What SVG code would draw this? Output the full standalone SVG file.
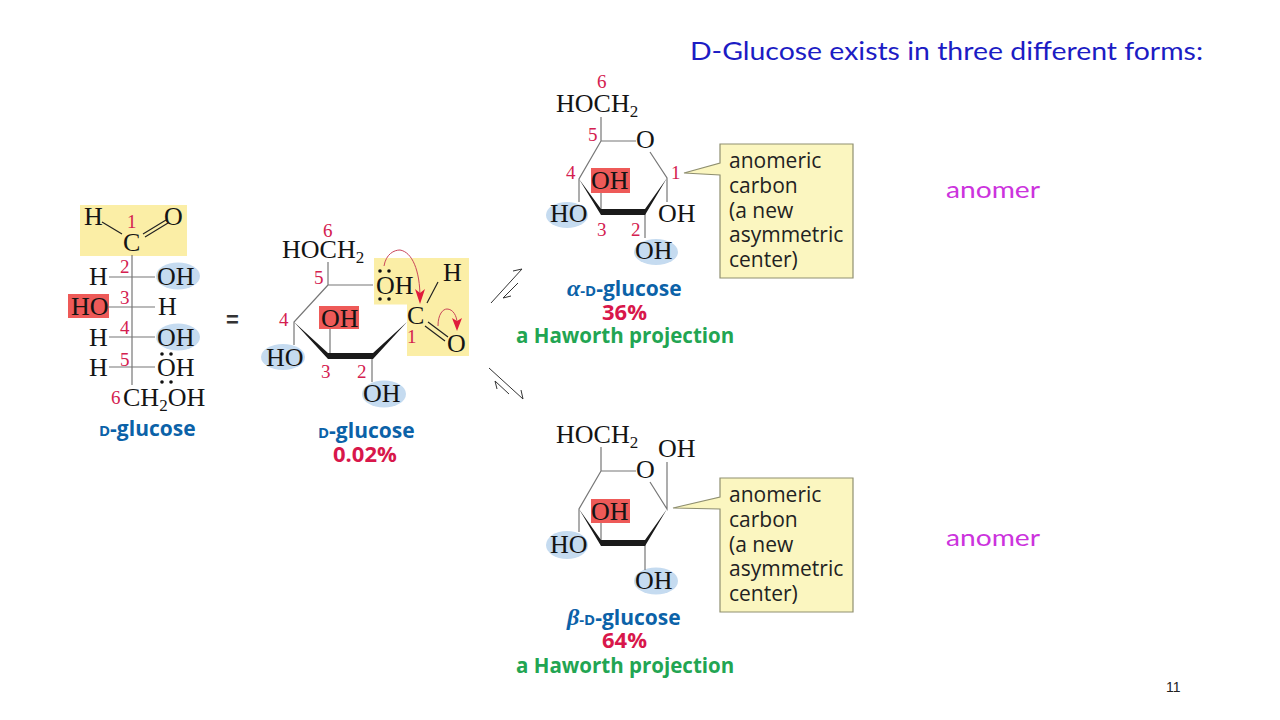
<svg xmlns="http://www.w3.org/2000/svg" width="1280" height="720" viewBox="0 0 1280 720">
<style>
.c{font-family:"Liberation Serif",serif;font-size:26px;fill:#141414}
.s{font-size:17px}
.n{font-family:"Liberation Serif",serif;font-size:19px;fill:#d4204f}
.l{fill:none;stroke:#777;stroke-width:1.2}
.k{fill:none;stroke:#222;stroke-width:1.2}
.w{fill:#1a1a1a;stroke:none}
.b{fill:#c5dbf0}
.r{fill:#ee5a58}
.y{fill:#fbeea6}
.t{font-family:"Open Sans",sans-serif;font-weight:700;font-size:20.5px}
.g{font-size:21px}
.p{font-size:22px}
.blue{fill:#0b62a8}
.red{fill:#d8174b}
.gr{fill:#22a552}
.sc{font-size:15px}
.gk{font-family:"Liberation Serif",serif;font-style:italic;font-size:24px}
.cb{fill:#fbf6c0;stroke:#8f8f70;stroke-width:1.2}
.ct{font-family:"Open Sans",sans-serif;font-size:21px;fill:#222}
.d{fill:#111}
.ti{font-family:"Lato",sans-serif;font-size:25px;fill:#1c1cc4}
.an{font-family:"Lato",sans-serif;font-size:24px;fill:#cc33dd}
.eq{fill:none;stroke:#333;stroke-width:1}
.ra{fill:none;stroke:#c9455a;stroke-width:1}
.rh{fill:#e01c3c}
</style>
<g id="title"><text class="ti" x="690" y="60" textLength="513" lengthAdjust="spacingAndGlyphs">D-Glucose exists in three different forms:</text></g>

<g id="fischer">
<rect class="y" x="80" y="205" width="107" height="51"/>
<rect class="r" x="68" y="294" width="41" height="24"/>
<ellipse class="b" cx="178" cy="276" rx="22" ry="13.5"/>
<ellipse class="b" cx="178" cy="337" rx="22" ry="13.5"/>
<path class="l" d="M132 255V385M109 277H155M108 307H155M109 337H155M109 367H155"/>
<path class="k" d="M102 222L122 234M143 234L166 220M145 237L168 223"/>
<text class="c" x="84" y="225">H</text><text class="c" x="164" y="225">O</text><text class="c" x="123" y="251">C</text>
<text class="c" x="89" y="285">H</text><text class="c" x="157" y="285">OH</text>
<text class="c" x="71" y="315">HO</text><text class="c" x="158" y="315">H</text>
<text class="c" x="89" y="346">H</text><text class="c" x="157" y="346">OH</text>
<text class="c" x="89" y="376">H</text><text class="c" x="157" y="376">OH</text>
<text class="c" x="123" y="406">CH<tspan class="s" dy="5">2</tspan><tspan dy="-5">OH</tspan></text>
<circle class="d" cx="162" cy="354" r="1.8"/><circle class="d" cx="171" cy="354" r="1.8"/><circle class="d" cx="162" cy="382" r="1.8"/><circle class="d" cx="171" cy="382" r="1.8"/>
<text class="n" x="127" y="228">1</text><text class="n" x="120" y="273">2</text><text class="n" x="120" y="304">3</text><text class="n" x="120" y="334">4</text><text class="n" x="120" y="366">5</text><text class="n" x="111" y="404">6</text>
<text class="t g blue" x="99" y="436"><tspan class="sc">D</tspan>-glucose</text>
</g>
<g id="equals"><text x="232.500" y="327" text-anchor="middle" font-family="Liberation Sans, sans-serif" font-weight="700" font-size="22" fill="#333">=</text></g>

<g id="open-chain">
<path class="y" d="M374 258H469V356H407V304.5H374Z"/>
<rect class="r" x="319" y="306" width="40" height="23"/>
<ellipse class="b" cx="283" cy="357" rx="22" ry="13"/>
<ellipse class="b" cx="384" cy="394" rx="22" ry="13.5"/>
<path class="l" d="M328 262V285H373M328 285L294 322V345M330 329V356M372 356V382"/>
<path class="k" d="M438 282L427 303M428 322L448 337M425 326L445 341"/>
<path class="w" d="M294 322L328 353L328 359ZM328 353H373V359H328ZM373 353L407 322L373 359Z"/>
<text class="c" x="282" y="258">HOCH<tspan class="s" dy="5">2</tspan></text>
<text class="c" x="376" y="294">OH</text><text class="c" x="443" y="281">H</text><text class="c" x="407" y="324">C</text><text class="c" x="447" y="352">O</text>
<text class="c" x="321" y="327">OH</text><text class="c" x="266" y="366">HO</text><text class="c" x="363" y="402">OH</text>
<circle class="d" cx="380" cy="271" r="1.8"/><circle class="d" cx="389" cy="271" r="1.8"/><circle class="d" cx="380" cy="299" r="1.8"/><circle class="d" cx="389" cy="299" r="1.8"/>
<text class="n" x="323" y="237">6</text><text class="n" x="314" y="284">5</text><text class="n" x="279" y="326">4</text><text class="n" x="321" y="378">3</text><text class="n" x="357" y="378">2</text><text class="n" x="407" y="343">1</text>
<path class="ra" d="M384 266C386 254 394 250 400 250C412 252 420 270 420 298M438 326C438 314 443 309 447 309C453 309 457 316 457 323"/>
<path class="rh" d="M420 304L415 289L420 293L425 289ZM457 331L452 318L457 321L462 318Z"/>
<text class="t g blue" x="318" y="438"><tspan class="sc">D</tspan>-glucose</text>
<text class="t p red" x="333" y="462">0.02%</text>
</g>

<g id="connectors">
<path class="eq" d="M491 303L522 269L513 271M518 283L503 298L511 296"/>
<path class="eq" d="M489 368L523 399L521 390M509 394L495 381L497 389"/>
</g>

<g id="alpha">
<rect class="r" x="591" y="168" width="39" height="25"/>
<ellipse class="b" cx="567" cy="215" rx="21" ry="13"/>
<ellipse class="b" cx="656" cy="252" rx="22" ry="13"/>
<path class="l" d="M601 117V141H636M650 152L667 178V202M601 141L579 179V202M601 193V212M645 212V238"/>
<path class="w" d="M579 179L601 209V215ZM601 209H645V215H601ZM645 209L667 178L645 215Z"/>
<text class="c" x="556" y="112">HOCH<tspan class="s" dy="5">2</tspan></text>
<text class="c" x="636" y="148">O</text><text class="c" x="591" y="189">OH</text><text class="c" x="550" y="222">HO</text><text class="c" x="658" y="222">OH</text><text class="c" x="635" y="259">OH</text>
<text class="n" x="597" y="88">6</text><text class="n" x="588" y="141">5</text><text class="n" x="566" y="179">4</text><text class="n" x="671" y="179">1</text><text class="n" x="597" y="236">3</text><text class="n" x="631" y="236">2</text>
<text class="t g blue" x="567" y="296"><tspan class="gk">α</tspan><tspan class="sc">-D</tspan>-glucose</text>
<text class="t p red" x="602" y="320">36%</text>
<text class="t gr" x="516" y="343">a Haworth projection</text>
</g>
<g id="alpha-callout">
<path class="cb" d="M720 144H853V278H720V175L684 173L720 163Z"/>
<text class="ct" x="729" y="168">anomeric</text><text class="ct" x="729" y="193">carbon</text><text class="ct" x="729" y="218">(a new</text><text class="ct" x="729" y="242">asymmetric</text><text class="ct" x="729" y="267">center)</text>
</g>

<g id="beta">
<rect class="r" x="591" y="499" width="39" height="24"/>
<ellipse class="b" cx="567" cy="545" rx="21" ry="14"/>
<ellipse class="b" cx="656" cy="581" rx="22" ry="13.5"/>
<path class="l" d="M601 447V471H636M650 482L667 509V462M601 471L579 509V532M601 523V543M645 543V570"/>
<path class="w" d="M579 509L601 540V546ZM601 540H645V546H601ZM645 540L667 509L645 546Z"/>
<text class="c" x="556" y="443">HOCH<tspan class="s" dy="5">2</tspan></text>
<text class="c" x="636" y="478">O</text><text class="c" x="658" y="457">OH</text><text class="c" x="591" y="520">OH</text><text class="c" x="550" y="553">HO</text><text class="c" x="635" y="589">OH</text>
<text class="t g blue" x="567" y="625"><tspan class="gk">β</tspan><tspan class="sc">-D</tspan>-glucose</text>
<text class="t p red" x="602" y="648">64%</text>
<text class="t gr" x="516" y="673">a Haworth projection</text>
</g>
<g id="beta-callout">
<path class="cb" d="M720 478H853V612H720V509L673 508L720 497Z"/>
<text class="ct" x="729" y="502">anomeric</text><text class="ct" x="729" y="527">carbon</text><text class="ct" x="729" y="552">(a new</text><text class="ct" x="729" y="576">asymmetric</text><text class="ct" x="729" y="601">center)</text>
</g>

<g id="anomer-1"><text class="an" x="946" y="198" textLength="94" lengthAdjust="spacingAndGlyphs">anomer</text></g>
<g id="anomer-2"><text class="an" x="946" y="546" textLength="94" lengthAdjust="spacingAndGlyphs">anomer</text></g>
<g id="page"><text x="1166" y="692" font-family="Liberation Sans, sans-serif" font-size="14" fill="#222">11</text></g>
</svg>
